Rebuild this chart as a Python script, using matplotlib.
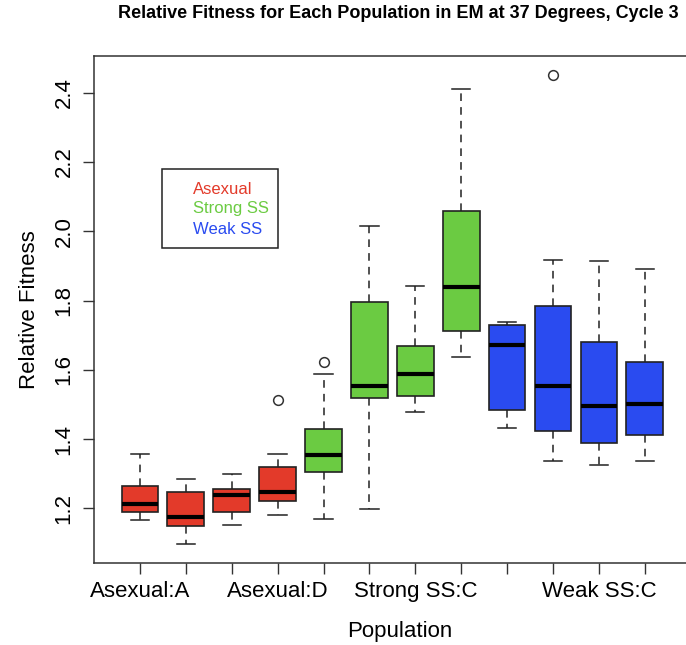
import matplotlib
matplotlib.use("Agg")
import matplotlib.pyplot as plt
from matplotlib.patches import Rectangle
from matplotlib import rcParams

rcParams.update({
    "font.family": ["Liberation Sans", "DejaVu Sans"],
    "font.size": 16,
})

populations = ["Asexual:A", "Asexual:B", "Asexual:C", "Asexual:D",
               "Strong SS:A", "Strong SS:B", "Strong SS:C", "Strong SS:D",
               "Weak SS:A", "Weak SS:B", "Weak SS:C", "Weak SS:D"]
# R drops the labels that would overlap
shown_labels = ["Asexual:A", "", "", "Asexual:D", "", "", "Strong SS:C",
                "", "", "", "Weak SS:C", ""]
groups = ["Asexual"] * 4 + ["Strong SS"] * 4 + ["Weak SS"] * 4

# five-number summaries
whisker_low = [1.167, 1.096, 1.153, 1.180, 1.170, 1.199, 1.477, 1.638, 1.432, 1.338, 1.324, 1.336]
q1 = [1.190, 1.148, 1.191, 1.222, 1.304, 1.518, 1.525, 1.713, 1.484, 1.424, 1.388, 1.413]
medians = [1.213, 1.174, 1.240, 1.248, 1.354, 1.554, 1.589, 1.840, 1.672, 1.552, 1.496, 1.501]
q3 = [1.264, 1.246, 1.256, 1.319, 1.429, 1.796, 1.670, 2.059, 1.730, 1.785, 1.681, 1.624]
whisker_high = [1.357, 1.286, 1.298, 1.357, 1.588, 2.016, 1.843, 2.411, 1.739, 1.918, 1.914, 1.890]
outliers = [[], [], [], [1.512], [1.624], [], [], [], [], [2.451], [], []]

group_colors = {"Asexual": "#e33a2a", "Strong SS": "#6bcb42", "Weak SS": "#2a4bf0"}

stats = []
for i in range(len(populations)):
    stats.append({
        "label": shown_labels[i],
        "whislo": whisker_low[i], "q1": q1[i], "med": medians[i],
        "q3": q3[i], "whishi": whisker_high[i], "fliers": outliers[i],
    })

fig = plt.figure(figsize=(6.86, 6.45), dpi=100)
ax = fig.add_axes([94 / 686, 1 - 563 / 645, 612 / 686, (563 - 56) / 645])

positions = list(range(1, len(populations) + 1))
bp = ax.bxp(stats, positions=positions, widths=0.8, capwidths=0.4,
            patch_artist=True, showfliers=True,
            boxprops=dict(edgecolor="#222222", linewidth=1.2),
            whiskerprops=dict(color="#222222", linestyle=(0, (5, 4)), linewidth=1.1),
            capprops=dict(color="#222222", linewidth=1.1),
            medianprops=dict(color="black", linewidth=3, solid_capstyle="butt"),
            flierprops=dict(marker="o", markerfacecolor="white",
                            markeredgecolor="#333333", markersize=7, markeredgewidth=1.1))
for patch, g in zip(bp["boxes"], groups):
    patch.set_facecolor(group_colors[g])

ax.set_xlim(0, 612 / 45.9)
ax.set_ylim(1.0425, 2.5057)
ax.set_xticks(positions)
ax.set_xticklabels(shown_labels)
ax.set_yticks([1.2, 1.4, 1.6, 1.8, 2.0, 2.2, 2.4])
ax.set_yticklabels(["1.2", "1.4", "1.6", "1.8", "2.0", "2.2", "2.4"],
                   rotation=90, va="center")
ax.tick_params(axis="both", length=8, width=1, color="#333333", labelsize=16)
ax.tick_params(axis="x", pad=5)
ax.tick_params(axis="y", pad=6)
for sp in ax.spines.values():
    sp.set_color("#333333")
    sp.set_linewidth(1.1)

ax.set_xlabel("Population", fontsize=16, labelpad=14)
ax.set_ylabel("Relative Fitness", fontsize=16, labelpad=10)

fig.text(118 / 686, 1 - 14 / 645, "Relative Fitness for Each Population in EM at 37 Degrees, Cycle 3",
         ha="left", va="center", fontsize=13, fontweight="bold")


# legend: framed box with coloured text, placed like R's legend()
def to_ax(px, py):
    return (px - 94) / 612, (563 - py) / 507


x0, y0 = to_ax(162, 248)
x1, y1 = to_ax(278, 169)
ax.add_patch(Rectangle((x0, y0), x1 - x0, y1 - y0, transform=ax.transAxes,
                       facecolor="white", edgecolor="#222222", linewidth=1.1, zorder=5))
for k, (name, c) in enumerate(group_colors.items()):
    tx, ty = to_ax(193, 189 + 20 * k)
    ax.text(tx, ty, name, color=c, fontsize=12, ha="left", va="center",
            transform=ax.transAxes, zorder=6)

fig.savefig("out.png", dpi=100)
